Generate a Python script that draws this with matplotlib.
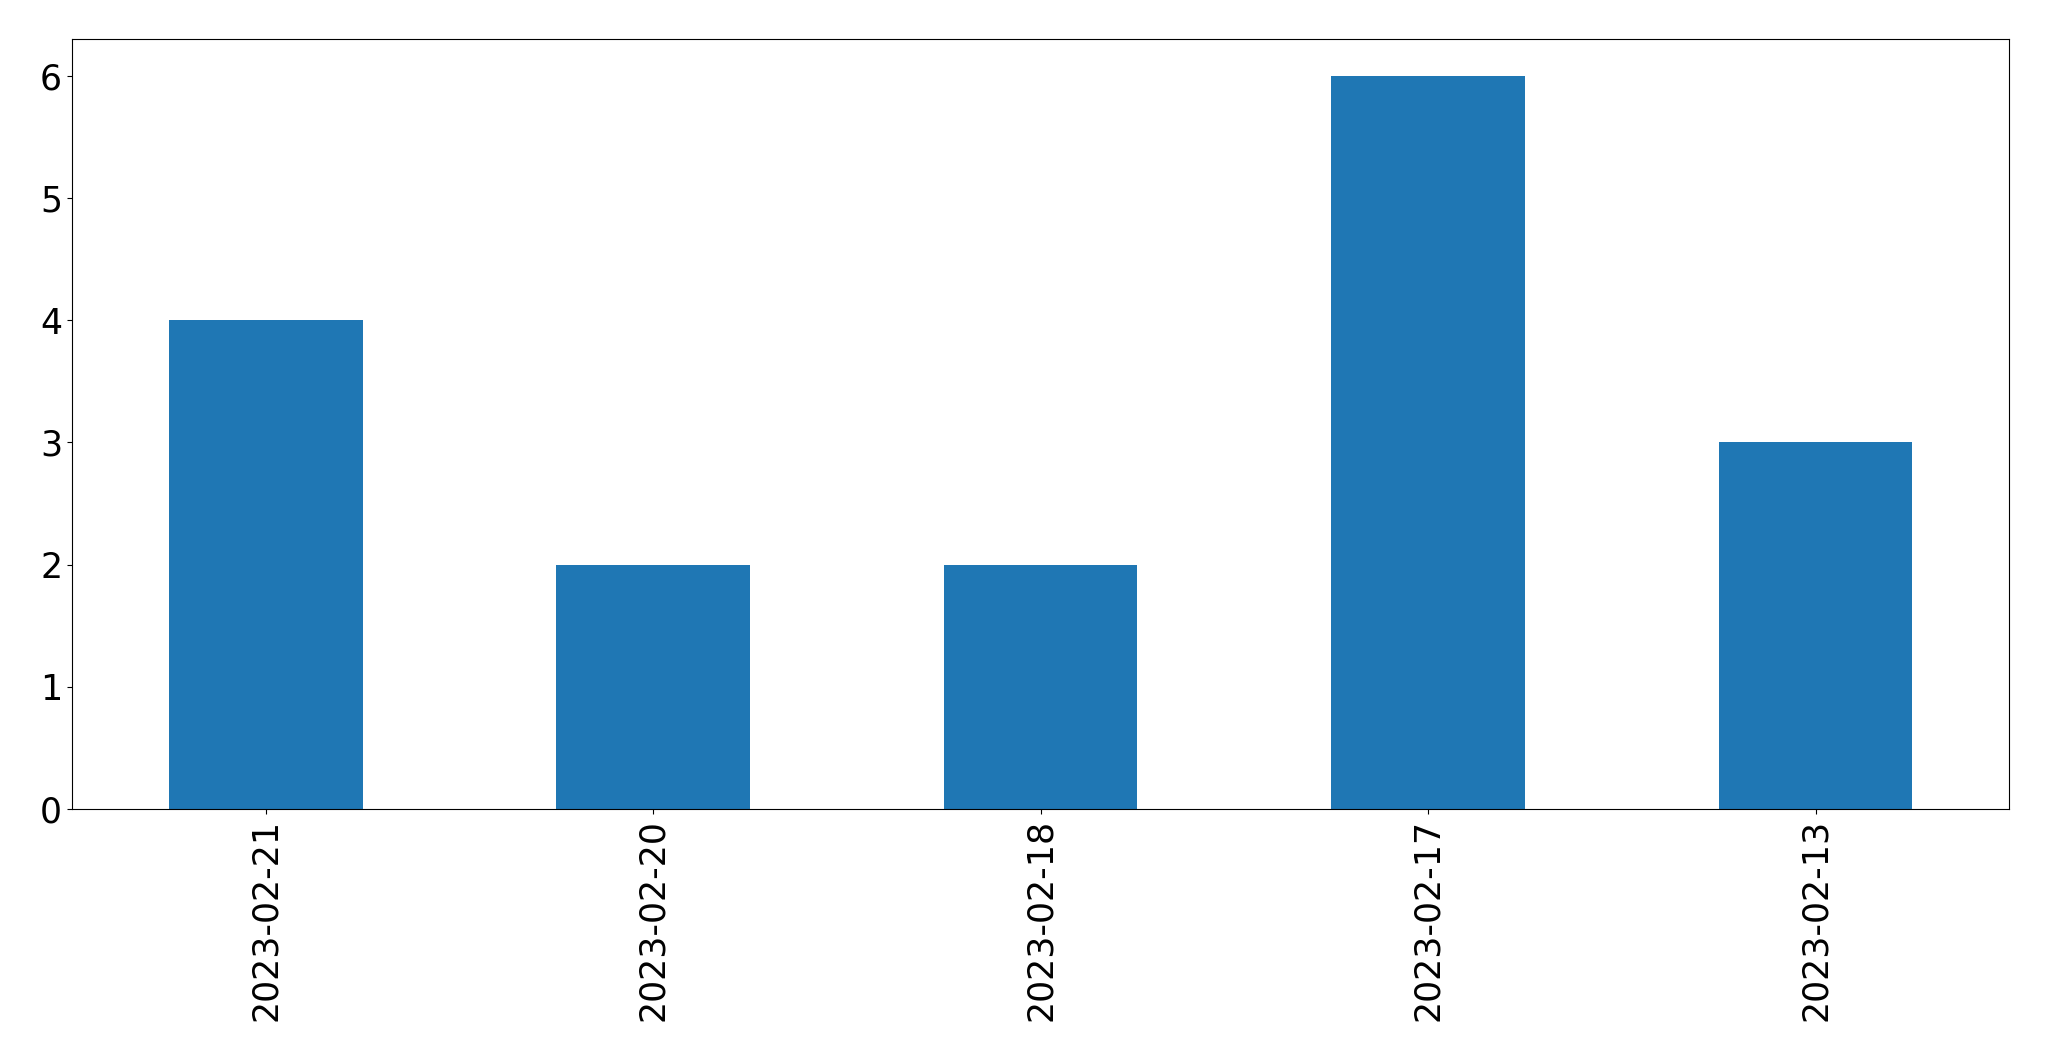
import matplotlib
matplotlib.use("Agg")
import matplotlib.pyplot as plt
import pandas as pd

dates = ["2023-02-21", "2023-02-20", "2023-02-18", "2023-02-17", "2023-02-13"]
counts = [4, 2, 2, 6, 3]

s = pd.Series(counts, index=dates)

fig = plt.figure(figsize=(20.49, 10.61), dpi=100)
ax = fig.add_axes([0.0351, 0.2375, 0.9455, 0.7255])
s.plot(kind="bar", ax=ax, color="#1f77b4")
ax.tick_params(axis="both", labelsize=25)
fig.savefig("out.png", dpi=100)
